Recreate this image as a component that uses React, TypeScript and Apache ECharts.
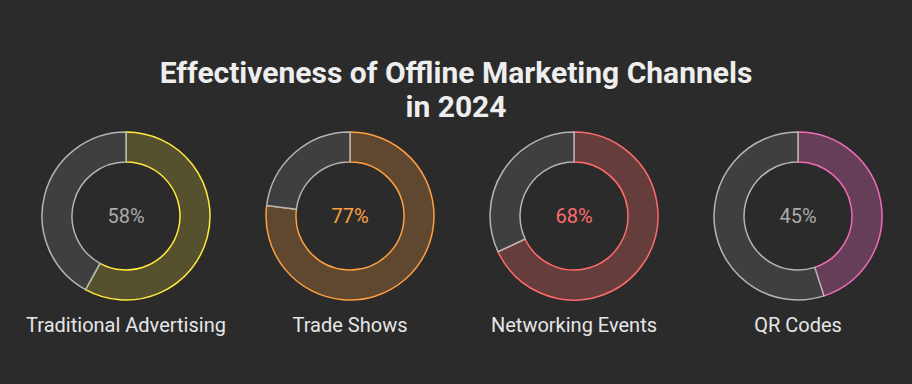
import React, { useEffect, useRef } from "react";
import * as echarts from "echarts";

const titleText = "Effectiveness of Offline Marketing Channels\nin 2024";
const channels = ["Traditional Advertising", "Trade Shows", "Networking Events", "QR Codes"];
const values = [58, 77, 68, 45];
const lineColors = ["#ffeb3b", "#ff9f40", "#ff6b6b", "#f06bbd"];
const fillColors = ["rgba(255,235,59,0.2)", "rgba(255,159,64,0.25)", "rgba(255,107,107,0.28)", "rgba(240,107,189,0.3)"];
const valueLabelColors = ["#aaaaaa", "#ff9f40", "#ff6b6b", "#aaaaaa"];
const centersX = [126, 350, 574, 798];

export default function App() {
  const ref = useRef<HTMLDivElement>(null);
  useEffect(() => {
    document.body.style.margin = "0";
    if (!ref.current) return;
    const chart = echarts.init(ref.current, null, { renderer: "svg" });
    const series = values.map((v, i) => ({
      type: "pie",
      center: [centersX[i], 216],
      radius: [54, 84],
      startAngle: 90,
      clockwise: true,
      silent: true,
      avoidLabelOverlap: false,
      labelLine: { show: false },
      emphasis: { disabled: true },
      data: [
        {
          value: v,
          name: channels[i],
          itemStyle: { color: fillColors[i], borderColor: lineColors[i], borderWidth: 1.5 },
          label: {
            show: true,
            position: "center",
            formatter: "{c}%",
            color: valueLabelColors[i],
            fontSize: 20,
            fontFamily: "Roboto",
          },
        },
        {
          value: 100 - v,
          name: "rest",
          itemStyle: { color: "#3f3f3f", borderColor: "#b5b5b5", borderWidth: 1.5 },
          label: { show: false },
        },
      ],
    }));
    chart.setOption({
      animation: false,
      backgroundColor: "#2b2b2b",
      title: {
        text: titleText,
        left: "center",
        top: 50,
        textStyle: {
          color: "#eeeeee",
          fontSize: 30,
          fontWeight: "bold",
          lineHeight: 34,
          fontFamily: "Roboto",
        },
      },
      graphic: channels.map((c, i) => ({
        type: "text",
        x: centersX[i],
        y: 325,
        style: {
          text: c,
          fill: "#e6e6e6",
          fontSize: 20,
          fontFamily: "Roboto",
          align: "center",
          verticalAlign: "middle",
        },
      })),
      series,
    });
    return () => chart.dispose();
  }, []);
  return <div ref={ref} style={{ width: 912, height: 384 }} />;
}
